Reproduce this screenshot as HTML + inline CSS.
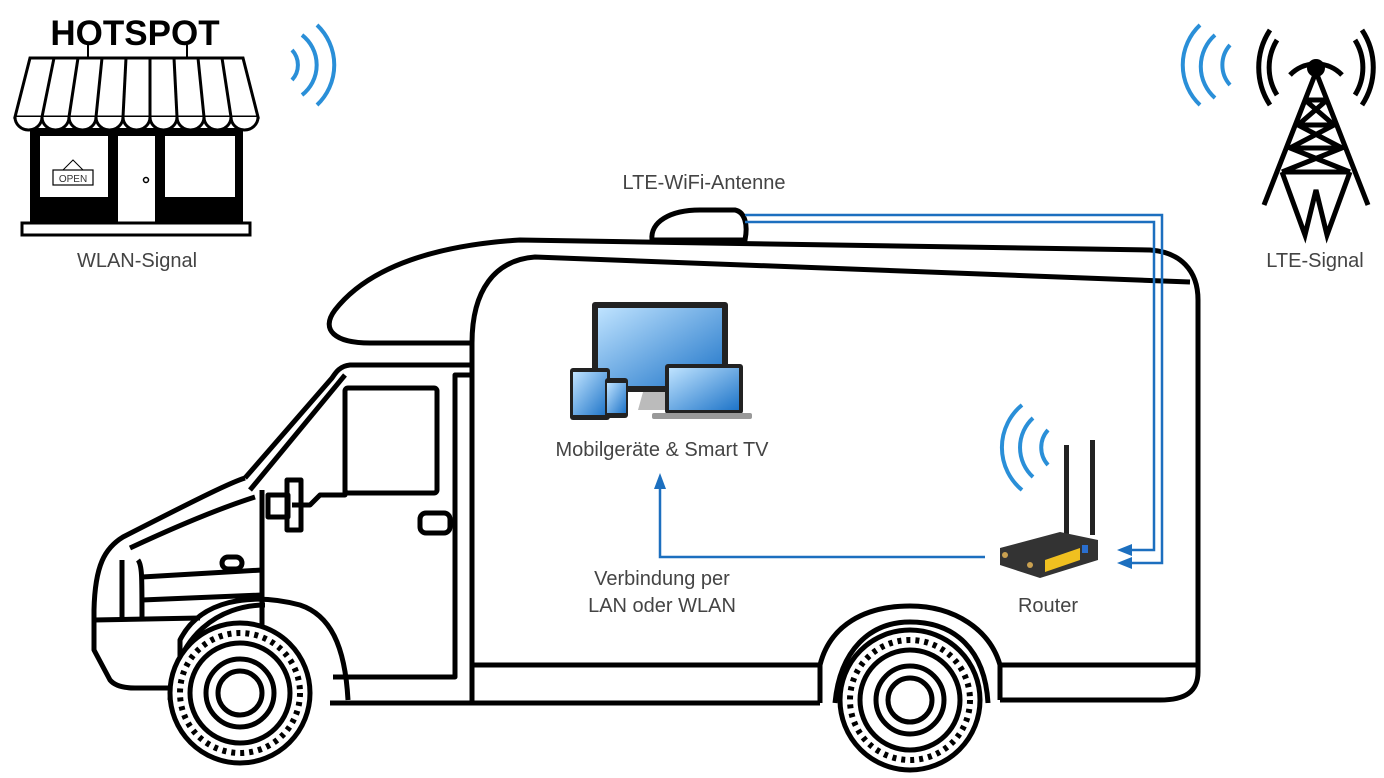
<!DOCTYPE html>
<html><head><meta charset="utf-8"><style>
html,body{margin:0;padding:0;background:#fff;}
svg{display:block;}
text{font-family:"Liberation Sans",sans-serif;}
</style></head><body>
<svg width="1384" height="778" viewBox="0 0 1384 778" xmlns="http://www.w3.org/2000/svg">
<defs>
<linearGradient id="scr" x1="0" y1="0" x2="1" y2="1"><stop offset="0" stop-color="#bfe3ff"/><stop offset="1" stop-color="#1e74c8"/></linearGradient>
<g id="wheel">
<circle r="70" fill="#fff" stroke="#000" stroke-width="5"/>
<circle r="60" fill="none" stroke="#000" stroke-width="6" stroke-dasharray="4 5"/>
<circle r="50" fill="none" stroke="#000" stroke-width="5"/>
<circle r="34" fill="none" stroke="#000" stroke-width="5"/>
<circle r="22" fill="none" stroke="#000" stroke-width="5"/>
</g>
</defs>

<text x="135" y="45" font-size="35" font-weight="bold" text-anchor="middle" fill="#000">HOTSPOT</text>
<line x1="88" y1="45" x2="88" y2="58" stroke="#000" stroke-width="2"/>
<line x1="187" y1="45" x2="187" y2="58" stroke="#000" stroke-width="2"/>
<rect x="30" y="128" width="213" height="95" fill="#000"/>
<rect x="40" y="136" width="68" height="61" fill="#fff"/>
<rect x="118" y="136" width="37" height="86" fill="#fff"/>
<rect x="165" y="136" width="70" height="61" fill="#fff"/>
<circle cx="146" cy="180" r="2.5" fill="none" stroke="#000" stroke-width="1.5"/>
<rect x="53" y="170" width="40" height="15" fill="#fff" stroke="#000" stroke-width="1.2"/>
<text x="73" y="182" font-size="10" text-anchor="middle" fill="#333">OPEN</text>
<path d="M63 170 L73 160 L83 170" fill="none" stroke="#000" stroke-width="1"/>
<rect x="22" y="223" width="228" height="12" fill="#fff" stroke="#000" stroke-width="3"/>
<path d="M30 58 L243 58 L258 117 L15 117 Z" fill="#fff" stroke="#000" stroke-width="3"/>
<path d="M15 117 a13.5 13 0 0 0 27 0 a13.5 13 0 0 0 27 0 a13.5 13 0 0 0 27 0 a13.5 13 0 0 0 27 0 a13.5 13 0 0 0 27 0 a13.5 13 0 0 0 27 0 a13.5 13 0 0 0 27 0 a13.5 13 0 0 0 27 0 a13.5 13 0 0 0 27 0" fill="#fff" stroke="#000" stroke-width="3"/>
<g stroke="#000" stroke-width="3">
<line x1="54" y1="58" x2="42" y2="117"/><line x1="78" y1="58" x2="69" y2="117"/><line x1="102" y1="58" x2="96" y2="117"/><line x1="126" y1="58" x2="123" y2="117"/><line x1="150" y1="58" x2="150" y2="117"/><line x1="174" y1="58" x2="177" y2="117"/><line x1="198" y1="58" x2="204" y2="117"/><line x1="222" y1="58" x2="231" y2="117"/>
</g>
<text x="137" y="267" font-size="20" text-anchor="middle" fill="#444">WLAN-Signal</text>

<g fill="none" stroke="#2a8fd8" stroke-width="4" stroke-linecap="butt">
<path d="M292 50 A22 22 0 0 1 292 80"/>
<path d="M302 35 A38 38 0 0 1 302 95"/>
<path d="M317 25 A55 55 0 0 1 317 105"/>
<path d="M1230 45 A30 30 0 0 0 1230 85"/>
<path d="M1215 35 A42 42 0 0 0 1215 98"/>
<path d="M1200 25 A55 55 0 0 0 1200 105"/>
<path d="M1048 430 A26 26 0 0 0 1048 465"/>
<path d="M1033 418 A40 40 0 0 0 1033 477"/>
<path d="M1022 405 A55 55 0 0 0 1022 490"/>
</g>

<g fill="none" stroke="#000" stroke-width="5">
<path d="M1290 75 A36 36 0 0 1 1342 75"/>
<path d="M1277 95 A52 52 0 0 1 1277 40 M1355 40 A52 52 0 0 1 1355 95" />
<path d="M1270 30 A68 68 0 0 0 1270 105 M1362 30 A68 68 0 0 1 1362 105"/>
</g>
<circle cx="1316" cy="68" r="9" fill="#000"/>
<g stroke="#000" stroke-width="5" fill="none">
<path d="M1316 72 L1264 205 M1316 72 L1368 205"/>
<path d="M1305 100 L1327 100 M1298 125 L1334 125 M1290 148 L1342 148 M1282 172 L1350 172"/>
<path d="M1305 100 L1334 125 L1290 148 L1350 172 M1327 100 L1298 125 L1342 148 L1282 172"/>
<path d="M1282 172 L1305 235 L1316 190 L1327 235 L1350 172"/>
</g>
<text x="1315" y="267" font-size="20" text-anchor="middle" fill="#444">LTE-Signal</text>

<g fill="none" stroke="#000" stroke-width="5" stroke-linejoin="round">
<path d="M472 343 L370 343 C335 343 320 330 335 310 C370 265 440 245 520 240 L1150 250 C1180 252 1198 270 1198 300 L1198 672 C1198 692 1185 700 1160 700 L1000 700"/>
<path d="M472 703 L472 343 C472 290 495 260 535 257 L1190 282"/>
<path d="M472 665 L820 665 M1000 665 L1198 665"/>
<path d="M330 703 L820 703"/>
<path d="M472 365 L350 365 C340 366 336 372 332 378 L245 478"/>
<path d="M345 375 L250 490"/>
<path d="M472 375 L455 375 L455 677 L333 677"/>
<path d="M245 478 C232 482 205 495 123 537 C105 548 95 565 94 610 L94 650 L110 680 C115 686 125 688 135 688 L180 688"/>
<path d="M255 497 C230 505 190 520 130 548"/>
<path d="M262 490 L262 640"/>
<path d="M122 560 L122 620 M138 560 C142 565 142 575 142 620"/>
<path d="M142 577 L262 570 M142 600 L262 595 M94 620 L200 618"/>
<rect x="222" y="557" width="20" height="12" rx="6"/>
<rect x="345" y="388" width="92" height="105" rx="3"/>
<path d="M345 395 L345 495 L320 495 L310 505 L292 505"/>
<rect x="287" y="480" width="14" height="50"/>
<rect x="268" y="495" width="20" height="22"/>
<rect x="420" y="513" width="30" height="20" rx="6"/>
<path d="M180 690 L180 640 C200 600 250 592 300 605 C330 615 345 645 348 700"/>
<path d="M170 700 C175 635 220 605 265 605"/>
<path d="M820 703 L820 665 C830 625 865 606 910 606 C955 606 990 630 1000 665 L1000 700"/>
<path d="M835 703 C840 650 870 622 910 622 C955 622 985 650 988 703"/>
</g>
<use href="#wheel" x="240" y="693"/>
<use href="#wheel" x="910" y="700"/>

<path d="M652 240 C650 222 670 210 700 210 L735 210 C745 212 748 225 745 240 Z" fill="#fff" stroke="#000" stroke-width="5"/>
<text x="704" y="189" font-size="20" text-anchor="middle" fill="#444">LTE-WiFi-Antenne</text>

<g fill="none" stroke="#1c6fbf" stroke-width="2.5">
<path d="M745 215 L1162 215 L1162 563 L1128 563"/>
<path d="M745 222 L1154 222 L1154 550 L1128 550"/>
<path d="M985 557 L660 557 L660 485"/>
</g>
<g fill="#1c6fbf">
<path d="M1117 550 L1132 544 L1132 556 Z"/>
<path d="M1117 563 L1132 557 L1132 569 Z"/>
<path d="M660 473 L654 489 L666 489 Z"/>
</g>

<rect x="592" y="302" width="136" height="90" rx="3" fill="#222"/>
<rect x="598" y="308" width="124" height="78" fill="url(#scr)"/>
<path d="M643 392 L677 392 L682 410 L638 410 Z" fill="#bbb"/>
<rect x="665" y="364" width="78" height="50" rx="3" fill="#222"/>
<rect x="669" y="368" width="70" height="42" fill="url(#scr)"/>
<rect x="652" y="413" width="100" height="6" rx="2" fill="#999"/>
<rect x="570" y="368" width="40" height="52" rx="3" fill="#222"/>
<rect x="573" y="372" width="34" height="43" fill="url(#scr)"/>
<rect x="605" y="378" width="23" height="40" rx="3" fill="#222"/>
<rect x="607" y="383" width="19" height="30" fill="url(#scr)"/>
<text x="662" y="456" font-size="20" text-anchor="middle" fill="#444">Mobilgeräte &amp; Smart TV</text>
<text x="662" y="585" font-size="20" text-anchor="middle" fill="#444">Verbindung per</text>
<text x="662" y="612" font-size="20" text-anchor="middle" fill="#444">LAN oder WLAN</text>

<rect x="1064" y="445" width="5" height="95" fill="#222"/>
<rect x="1090" y="440" width="5" height="95" fill="#222"/>
<path d="M1000 548 L1060 532 L1098 540 L1098 560 L1040 578 L1000 565 Z" fill="#333"/>
<path d="M1045 560 L1080 548 L1080 560 L1045 572 Z" fill="#f0c020"/>
<rect x="1082" y="545" width="6" height="8" fill="#2a6fd0"/>
<circle cx="1005" cy="555" r="3" fill="#c9a050"/><circle cx="1030" cy="565" r="3" fill="#c9a050"/>
<text x="1048" y="612" font-size="20" text-anchor="middle" fill="#444">Router</text>
</svg>
</body></html>
